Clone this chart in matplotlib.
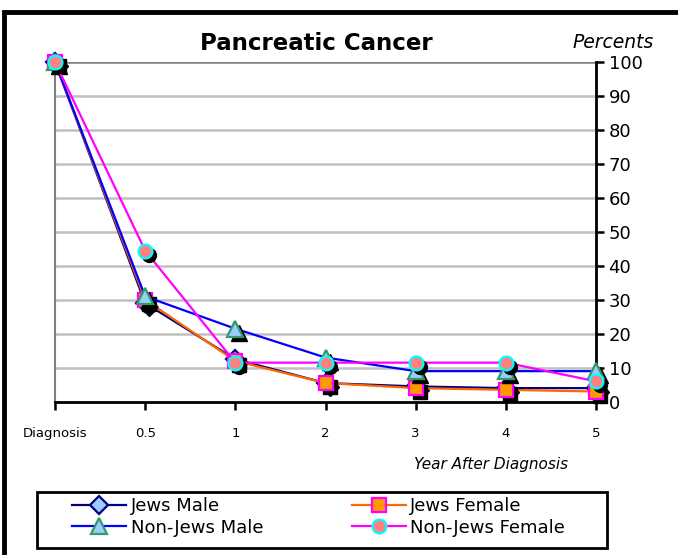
import matplotlib.pyplot as plt
import matplotlib.transforms as mtransforms
from matplotlib.patches import Rectangle

# Survival after diagnosis, percent
categories = ['Diagnosis', '0.5', '1', '2', '3', '4', '5']
jews_male = [100, 29, 12.5, 5.5, 4.5, 4, 4]
jews_female = [100, 30, 12, 5.5, 4, 3.5, 3]
non_jews_male = [100, 31, 21.5, 13, 9, 9, 9]
non_jews_female = [100, 44.5, 11.5, 11.5, 11.5, 11.5, 6]

series = [
    ('Jews Male', jews_male, '#000080', 'D', '#99CCFF', '#000080', 9),
    ('Jews Female', jews_female, '#FF6600', 's', '#FF9900', '#FF00FF', 10),
    ('Non-Jews Male', non_jews_male, '#0000FF', '^', '#99CCFF', '#339966', 11),
    ('Non-Jews Female', non_jews_female, '#FF00FF', 'o', '#FF8080', '#00FFFF', 10),
]

W, H = 678, 555
fig = plt.figure(figsize=(W / 100, H / 100), dpi=100)
ax = fig.add_axes([0.0811, 0.2762, 0.798, 0.612])

x = list(range(len(categories)))
shadow = mtransforms.offset_copy(ax.transData, fig=fig, x=4, y=-4, units='dots')

handles = []
for i, (name, vals, lc, mk, fc, ec, ms) in enumerate(series):
    z = 3 + i
    ax.plot(x, vals, color=lc, lw=1.6, zorder=z, clip_on=False)
    ax.plot(x, vals, ls='none', marker=mk, ms=ms, color='black',
            transform=shadow, zorder=z + 0.1, clip_on=False)
    ax.plot(x, vals, ls='none', marker=mk, ms=ms, mfc=fc, mec=ec, mew=1.6,
            zorder=z + 0.2, clip_on=False)
    h, = ax.plot([], [], color=lc, lw=1.6, marker=mk, ms=ms, mfc=fc, mec=ec,
                 mew=1.6, label=name)
    handles.append(h)

ax.set_xlim(0, len(categories) - 1)
ax.set_ylim(0, 100)
ax.set_xticks(x)
ax.set_xticklabels(categories, fontsize=9.5)
ax.set_yticks(range(0, 101, 10))
ax.yaxis.tick_right()
ax.tick_params(axis='y', labelsize=13, length=6, width=1.8, direction='out', pad=3)
ax.tick_params(axis='x', length=6, width=1.8, direction='out', pad=12)

for y in range(10, 100, 10):
    ax.axhline(y, color='#C0C0C0', lw=1.8, zorder=1)
ax.axhline(100, color='#808080', lw=1.8, zorder=1)

ax.spines['top'].set_visible(False)
ax.spines['left'].set_color('#808080')
ax.spines['left'].set_linewidth(1.5)
ax.spines['right'].set_linewidth(2)
ax.spines['bottom'].set_linewidth(2)

fig.text(316 / W, 1 - 44 / H, 'Pancreatic Cancer', fontsize=16.5,
         fontweight='bold', ha='center', va='center')
fig.text(654 / W, 1 - 42 / H, 'Percents', fontsize=13.5,
         style='italic', ha='right', va='center')
fig.text(568 / W, 1 - 465 / H, 'Year After Diagnosis', fontsize=11,
         style='italic', ha='right', va='center')

# legend entries laid out row by row, frame drawn separately
order = [0, 2, 1, 3]
fig.legend([handles[k] for k in order], [series[k][0] for k in order],
           ncol=2, loc='center left', bbox_to_anchor=(72 / W, 1 - 517 / H),
           fontsize=13, frameon=False, borderpad=0, labelspacing=0.2,
           handlelength=3.0, handletextpad=0.25, columnspacing=4.9,
           borderaxespad=0)
fig.patches.append(Rectangle((37 / W, 1 - 548 / H), 570 / W, 56 / H,
                             transform=fig.transFigure, fill=False,
                             edgecolor='black', lw=2))

# outer chart border
fig.patches.append(Rectangle((4 / W, -0.05), 1.1, 1 - 12 / H + 0.05,
                             transform=fig.transFigure, fill=False,
                             edgecolor='black', lw=3.5))

fig.savefig('out.png', dpi=100)
